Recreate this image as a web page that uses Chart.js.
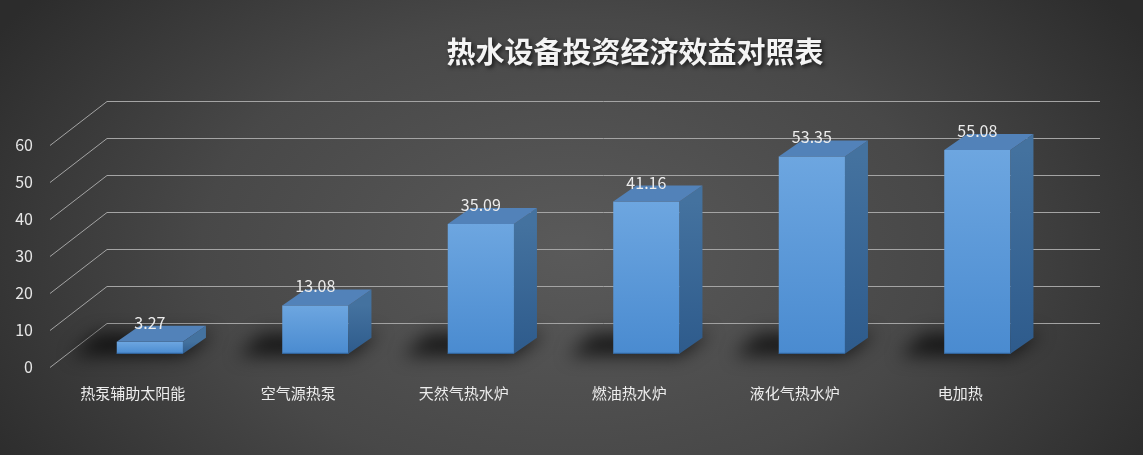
<!DOCTYPE html>
<html>
<head>
<meta charset="utf-8">
<script src="https://cdn.jsdelivr.net/npm/chart.js@4"></script>
<style>
  html, body { margin: 0; padding: 0; background: #3a3a3a; }
  #wrap { width: 1143px; height: 455px; }
</style>
</head>
<body>
<div id="wrap"><canvas id="chart"></canvas></div>
<script>
// chart data
var titleText = "热水设备投资经济效益对照表";
var categories = ["热泵辅助太阳能", "空气源热泵", "天然气热水炉", "燃油热水炉", "液化气热水炉", "电加热"];
var values = [3.27, 13.08, 35.09, 41.16, 53.35, 55.08];
var yMin = 0, yMax = 60, yStep = 10;

// 3d look
var FLOOR_DX = 57, FLOOR_DY = -44;   // depth of the floor / gridlines
var BAR_SHIFT = 0.3;                  // where the bar front sits inside the depth
var BAR_DX = 23, BAR_DY = -16;        // bar depth
var FONT = '"Noto Sans CJK SC", "Microsoft YaHei", sans-serif';

var bg3d = {
    id: "bg3d",
    beforeDraw: function(chart) {
        var ctx = chart.ctx, w = chart.width, h = chart.height;
        ctx.save();
        ctx.translate(w * 0.5, h * 0.55);
        ctx.scale(1.6, 1);
        var g = ctx.createRadialGradient(0, 0, 0, 0, 0, 420);
        g.addColorStop(0, "#5a5a5a");
        g.addColorStop(0.55, "#484848");
        g.addColorStop(1, "#2c2c2c");
        ctx.fillStyle = g;
        ctx.fillRect(-w, -h, w * 2, h * 2);
        ctx.restore();

        // title
        ctx.save();
        ctx.font = "bold 29px " + FONT;
        ctx.textAlign = "center";
        ctx.textBaseline = "middle";
        ctx.shadowColor = "rgba(0,0,0,0.7)";
        ctx.shadowBlur = 4;
        ctx.shadowOffsetX = 2;
        ctx.shadowOffsetY = 2;
        ctx.fillStyle = "#f4f4f4";
        ctx.fillText(titleText, 635, 52);
        ctx.restore();
    },
    beforeDatasetsDraw: function(chart) {
        var ctx = chart.ctx, area = chart.chartArea, y = chart.scales.y;
        ctx.save();
        ctx.strokeStyle = "#a4a4a4";
        ctx.lineWidth = 1;
        y.ticks.forEach(function(t) {
            var py = Math.round(y.getPixelForValue(t.value)) + 0.5;
            ctx.beginPath();
            ctx.moveTo(area.left, py);
            ctx.lineTo(area.left + FLOOR_DX, py + FLOOR_DY);
            ctx.lineTo(area.right + FLOOR_DX, py + FLOOR_DY);
            ctx.stroke();
        });
        ctx.restore();
    },
    afterDatasetsDraw: function(chart) {
        var ctx = chart.ctx;
        var meta = chart.getDatasetMeta(0);
        var sx = FLOOR_DX * BAR_SHIFT, sy = FLOOR_DY * BAR_SHIFT;

        // shadows
        meta.data.forEach(function(el) {
            var xl = el.x - el.width / 2 + sx, xr = el.x + el.width / 2 + sx;
            var yb = el.base + sy;
            ctx.save();
            ctx.filter = "blur(9px)";
            ctx.fillStyle = "rgba(0,0,0,0.7)";
            ctx.beginPath();
            ctx.moveTo(xl - 45, yb + 2);
            ctx.lineTo(xr, yb + 2);
            ctx.lineTo(xr + BAR_DX + 8, yb + BAR_DY - 4);
            ctx.lineTo(xl - 20, yb + BAR_DY - 4);
            ctx.closePath();
            ctx.fill();
            ctx.restore();
        });

        meta.data.forEach(function(el, i) {
            var xl = el.x - el.width / 2 + sx, xr = el.x + el.width / 2 + sx;
            var yt = el.y + sy, yb = el.base + sy;
            ctx.save();
            // front
            var gf = ctx.createLinearGradient(0, yt, 0, yb);
            gf.addColorStop(0, "#6da6e0");
            gf.addColorStop(1, "#4a8bd0");
            ctx.fillStyle = gf;
            ctx.fillRect(xl, yt, xr - xl, yb - yt);
            ctx.fillStyle = "#2f5f95";
            ctx.fillRect(xl, yb - 1, xr - xl, 1);
            // side
            var gs = ctx.createLinearGradient(0, yt, 0, yb);
            gs.addColorStop(0, "#44729f");
            gs.addColorStop(1, "#2e5b8c");
            ctx.fillStyle = gs;
            ctx.beginPath();
            ctx.moveTo(xr, yt);
            ctx.lineTo(xr + BAR_DX, yt + BAR_DY);
            ctx.lineTo(xr + BAR_DX, yb + BAR_DY);
            ctx.lineTo(xr, yb);
            ctx.closePath();
            ctx.fill();
            // top
            ctx.fillStyle = "#5282b9";
            ctx.beginPath();
            ctx.moveTo(xl, yt);
            ctx.lineTo(xl + BAR_DX, yt + BAR_DY);
            ctx.lineTo(xr + BAR_DX, yt + BAR_DY);
            ctx.lineTo(xr, yt);
            ctx.closePath();
            ctx.fill();
            // value label
            ctx.font = "16px " + FONT;
            ctx.textAlign = "center";
            ctx.textBaseline = "middle";
            ctx.fillStyle = "#ececec";
            ctx.fillText(values[i].toFixed(2), (xl + xr) / 2, yt - 19);
            ctx.restore();
        });
    }
};

new Chart(document.getElementById("chart"), {
    type: "bar",
    data: {
        labels: categories,
        datasets: [{
            data: values,
            backgroundColor: "rgba(0,0,0,0)",
            borderWidth: 0,
            barPercentage: 0.4,
            categoryPercentage: 1
        }]
    },
    options: {
        responsive: true,
        maintainAspectRatio: false,
        animation: false,
        layout: { padding: { top: 145, right: 100, left: 0, bottom: 0 } },
        plugins: {
            legend: { display: false },
            tooltip: { enabled: false }
        },
        scales: {
            x: {
                grid: { display: false, drawTicks: false },
                border: { display: false },
                ticks: {
                    color: "#ededed",
                    font: { size: 15, family: FONT },
                    padding: 17,
                    maxRotation: 0,
                    autoSkip: false
                },
                afterFit: function(s) { s.height = 88; }
            },
            y: {
                min: yMin,
                max: yMax,
                grid: { display: false, drawTicks: false },
                border: { display: false },
                ticks: {
                    stepSize: yStep,
                    color: "#e6e6e6",
                    font: { size: 16, family: FONT },
                    padding: 17
                },
                afterFit: function(s) { s.width = 50; }
            }
        }
    },
    plugins: [bg3d]
});
</script>
</body>
</html>
